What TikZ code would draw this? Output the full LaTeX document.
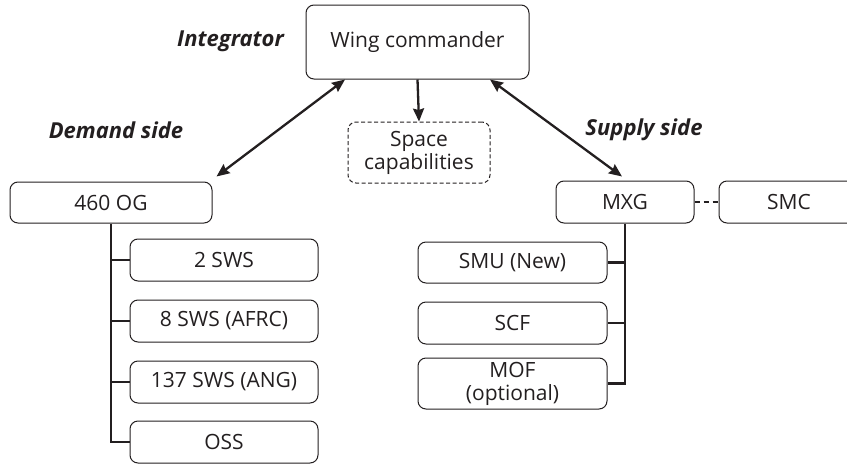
\documentclass[tikz,border=0pt]{standalone}
\usepackage{fontspec}
\setmainfont{Open Sans}
\usetikzlibrary{arrows.meta}
\definecolor{ink}{HTML}{231F20}
\begin{document}
\begin{tikzpicture}[x=1pt,y=1pt,
  box/.style={draw=ink,line width=1pt,rounded corners=8pt,align=center,inner sep=0pt,
    font=\fontsize{21}{23}\selectfont,text=ink},
  dbox/.style={box,dashed,dash pattern=on 4pt off 2.5pt},
  conn/.style={line width=2.3pt,draw=ink},
  arr/.style={line width=2.3pt,draw=ink,{Stealth[length=13pt,width=11pt,inset=1.5pt]}-{Stealth[length=13pt,width=11pt,inset=1.5pt]}},
  darr/.style={line width=2.3pt,draw=ink,-{Stealth[length=13pt,width=11pt,inset=1.5pt]}},
  lab/.style={font=\fontsize{22}{24}\selectfont\bfseries\itshape,text=ink,inner sep=0pt}]
\useasboundingbox (0,0) rectangle (847,-464);
\node[box,minimum width=223pt,minimum height=74pt] (wing) at (417.5,-42) {Wing commander};
\node[dbox,minimum width=142pt,minimum height=61pt] (space) at (419,-152.5) {Space\\capabilities};
\node[box,minimum width=202pt,minimum height=41pt] (og) at (111,-202.5) {460 OG};
\node[box,minimum width=188pt,minimum height=42pt] (c1) at (224,-260) {2 SWS};
\node[box,minimum width=188pt,minimum height=42pt] (c2) at (224,-321) {8 SWS (AFRC)};
\node[box,minimum width=188pt,minimum height=42pt] (c3) at (224,-382) {137 SWS (ANG)};
\node[box,minimum width=188pt,minimum height=42pt] (c4) at (224,-442) {OSS};
\node[box,minimum width=138pt,minimum height=42pt] (mxg) at (625,-202) {MXG};
\node[box,minimum width=140pt,minimum height=42pt] (smc) at (789,-202) {SMC};
\node[box,minimum width=189pt,minimum height=41pt] (r1) at (512.5,-262.5) {SMU (New)};
\node[box,minimum width=189pt,minimum height=42pt] (r2) at (512.5,-323) {SCF};
\node[box,minimum width=189pt,minimum height=51pt] (r3) at (512.5,-383.5) {MOF\\(optional)};
\node[lab,anchor=east] (integ) at (284,-41) {Integrator};
\node[lab] (dem) at (116,-130) {Demand side};
\node[lab] (sup) at (644,-130) {Supply side};
% connectors
\draw[darr] (wing.south) -- (space.north);
\draw[arr] ([xshift=4pt,yshift=5pt]og.north east) -- ([xshift=-72.5pt]wing.south);
\draw[arr] ([xshift=-3pt,yshift=4pt]mxg.north) -- ([xshift=72.5pt]wing.south);
\draw[conn] (og.south) -- (og.south |- c4.west) -- (c4.west);
\draw[conn] (og.south |- c1.west) -- (c1.west);
\draw[conn] (og.south |- c2.west) -- (c2.west);
\draw[conn] (og.south |- c3.west) -- (c3.west);
\draw[conn] (mxg.south) -- (mxg.south |- r3.east) -- (r3.east);
\draw[conn] (mxg.south |- r1.east) -- (r1.east);
\draw[conn] (mxg.south |- r2.east) -- (r2.east);
\draw[conn,dashed,dash pattern=on 5pt off 4pt] (mxg.east) -- (smc.west);
\end{tikzpicture}
\end{document}
